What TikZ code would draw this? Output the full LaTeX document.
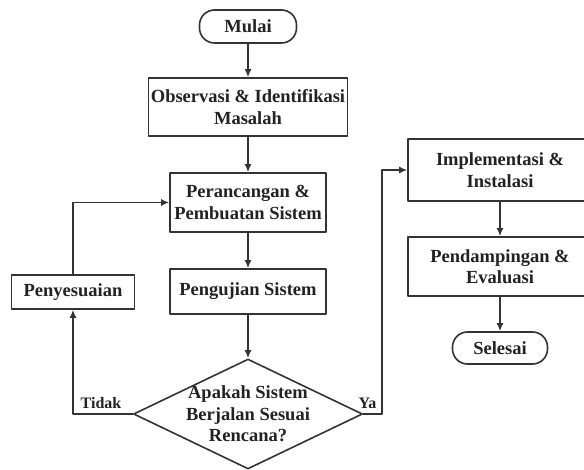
\documentclass[tikz,border=0pt]{standalone}
\usepackage{fontspec}
\setmainfont{Liberation Serif}
\usetikzlibrary{positioning,calc,shapes.geometric,arrows.meta}

\begin{document}
\begin{tikzpicture}[
	x=1pt, y=-1pt,
	font=\bfseries\fontsize{18.5}{21.5}\selectfont,
	>={Latex[length=8pt,width=7pt]},
	line cap=round,
	line join=round,
	line width=1.6pt,
	every path/.style={draw=black!80, line width=1.6pt}
	]
	\definecolor{fcText}{HTML}{222222}
	
	% Style node
	\tikzset{
		term/.style={rectangle, draw=black!80, rounded corners=15pt, text=fcText, align=center,
			minimum height=33pt, inner sep=0pt},
		proc/.style={rectangle, draw=black!80, text=fcText, align=center, inner sep=0pt},
		decision/.style={diamond, draw=black!80, inner sep=0pt, minimum width=229pt, minimum height=110pt},
		lbl/.style={draw=none, text=fcText, font=\bfseries\fontsize{16}{18}\selectfont}
	}
	
	\path[use as bounding box, draw=none] (0,0) rectangle (584,470);
	
	% ===== Node positions =====
	\node[term, minimum width=97pt] (M) at (248,26.5) {Mulai};
	\node[proc, minimum width=199pt, minimum height=58pt] (O) at (248,107) {Observasi \& Identifikasi\\Masalah};
	\node[proc, minimum width=156pt, minimum height=59pt] (R) at (248,202.5) {Perancangan \&\\Pembuatan Sistem};
	\node[proc, minimum width=156pt, minimum height=45pt] (U) at (248,291.5) {Pengujian Sistem};
	\node[proc, minimum width=123pt, minimum height=34pt] (S) at (73,292) {Penyesuaian};
	
	\node[decision] (D) at (248,414) {};
	\node[draw=none, text=fcText, align=center] (Dt) at (D.center) {Apakah Sistem\\Berjalan Sesuai\\Rencana?};
	
	\node[proc, minimum width=184pt, minimum height=62pt] (I) at (500,170) {Implementasi \&\\Instalasi};
	\node[proc, minimum width=184pt, minimum height=59pt] (E) at (500,266.5) {Pendampingan \&\\Evaluasi};
	\node[term, minimum width=95pt, minimum height=32pt] (F) at (500,348) {Selesai};
	
	% ===== Arrows =====
	\draw[->] (M.south) -- (O.north);
	\draw[->] (O.south) -- (R.north);
	\draw[->] (R.south) -- (U.north);
	\draw[->] (U.south) -- (D.north);
	
	% tidak -> penyesuaian -> perancangan
	\draw[->] (D.west) -| (S.south);
	\draw[->] (S.north) |- (R.west);
	\node[lbl] (T) at (101,403) {Tidak};
	
	% ya -> implementasi
	\coordinate (Yc) at (382,414);
	\draw[->] (D.east) -- (Yc) |- (I.west);
	\node[lbl] (Y) at (367.5,403) {Ya};
	
	\draw[->] (I.south) -- (E.north);
	\draw[->] (E.south) -- (F.north);
	
\end{tikzpicture}
\end{document}
